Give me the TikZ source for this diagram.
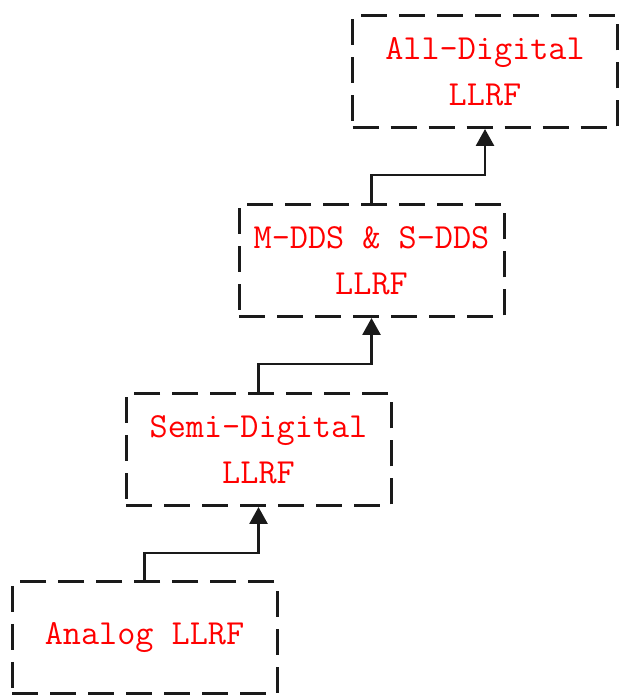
\documentclass[tikz,border=0pt]{standalone}
\usepackage{fontspec}
\usetikzlibrary{arrows.meta}
\definecolor{boxline}{HTML}{1A1A1A}
\definecolor{labred}{HTML}{FF0000}
\tikzset{
  stagebox/.style={draw=boxline, line width=3pt, dash pattern=on 26pt off 12pt,
    minimum width=265pt, minimum height=112pt, inner sep=0pt, align=center,
    text=labred, font=\ttfamily\fontsize{35.2}{46}\selectfont},
  conn/.style={draw=boxline, line width=2.8pt, -{Triangle[width=18pt,length=17pt]}}
}
\begin{document}
\begin{tikzpicture}[x=1pt,y=1pt]
\useasboundingbox (0,0) rectangle (619,696);
\node[stagebox] (b1) at (144.5,58) {Analog LLRF};
\node[stagebox] (b2) at (258.5,246.5) {Semi-Digital\\LLRF};
\node[stagebox] (b3) at (371.5,435.5) {M-DDS \& S-DDS\\LLRF};
\node[stagebox] (b4) at (485,624.5) {All-Digital\\LLRF};
\coordinate (k1) at (144.5,143);
\coordinate (k2) at (258.5,332);
\coordinate (k3) at (371.5,521);
\draw[conn] (b1.north) -- (k1) -| (b2.south);
\draw[conn] (b2.north) -- (k2) -| (b3.south);
\draw[conn] (b3.north) -- (k3) -| (b4.south);
\end{tikzpicture}
\end{document}
